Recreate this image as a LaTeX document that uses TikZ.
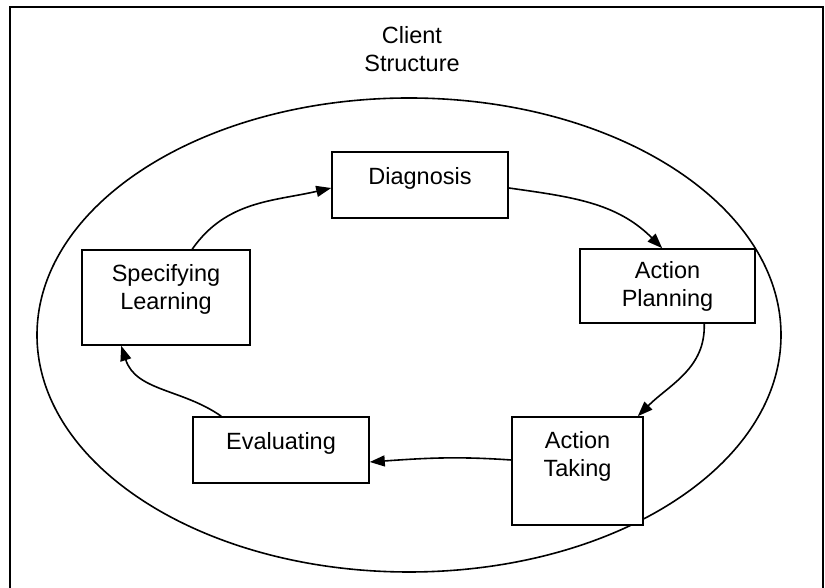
\documentclass[tikz,border=0pt]{standalone}
\usepackage{fontspec}
\setmainfont{Liberation Sans}
\usetikzlibrary{arrows.meta,calc}
\begin{document}
\begin{tikzpicture}[x=1pt,y=1pt,
  every node/.style={font=\fontsize{23.5}{28}\selectfont},
  stagebox/.style={draw, fill=white, line width=1.6pt, inner sep=0pt},
  stagetext/.style={align=center, inner sep=0pt},
  flow/.style={line width=1.6pt, -{Triangle[length=15pt,width=11pt]}}]
\useasboundingbox (0,0) rectangle (825,588);
% frame
\draw[line width=2.4pt] (10,-5) -- (10,581) -- (823,581) -- (823,-5);
% outer ellipse
\draw[line width=1.6pt] (409,253) ellipse [x radius=372, y radius=237];
\node[stagetext] (title) at (412,539) {Client\\Structure};
% boxes
\node[stagebox, minimum width=176pt, minimum height=66pt] (dg) at (420,403) {};
\node[stagetext] (dgt) at (420,410) {Diagnosis};
\node[stagebox, minimum width=175pt, minimum height=74pt] (ap) at (667.5,302) {};
\node[stagetext] (apt) at (667.5,302) {Action\\Planning};
\node[stagebox, minimum width=168pt, minimum height=95pt] (sl) at (166,290.5) {};
\node[stagetext] (slt) at (166,299) {Specifying\\Learning};
\node[stagebox, minimum width=176pt, minimum height=66pt] (ev) at (281,138) {};
\node[stagetext] (evt) at (281,145) {Evaluating};
\node[stagebox, minimum width=131pt, minimum height=108pt] (at) at (577.5,117) {};
\node[stagetext] (att) at (577.5,132) {Action\\Taking};
% cycle arrows
\draw[flow] ([xshift=111pt]sl.north west) to[out=55,in=193] ([yshift=-3pt]dg.west);
\draw[flow] ([yshift=-3pt]dg.east) to[out=-8,in=135] ([xshift=83pt]ap.north west);
\draw[flow] ([xshift=125pt]ap.south west) to[out=-88,in=45] ([xshift=-6pt]at.north east);
\draw[flow] ([yshift=11pt]at.west) to[out=176,in=4] ([yshift=-12pt]ev.east);
\draw[flow] ([xshift=29pt]ev.north west) to[out=145,in=-72] ([xshift=40pt]sl.south west);
\end{tikzpicture}
\end{document}
